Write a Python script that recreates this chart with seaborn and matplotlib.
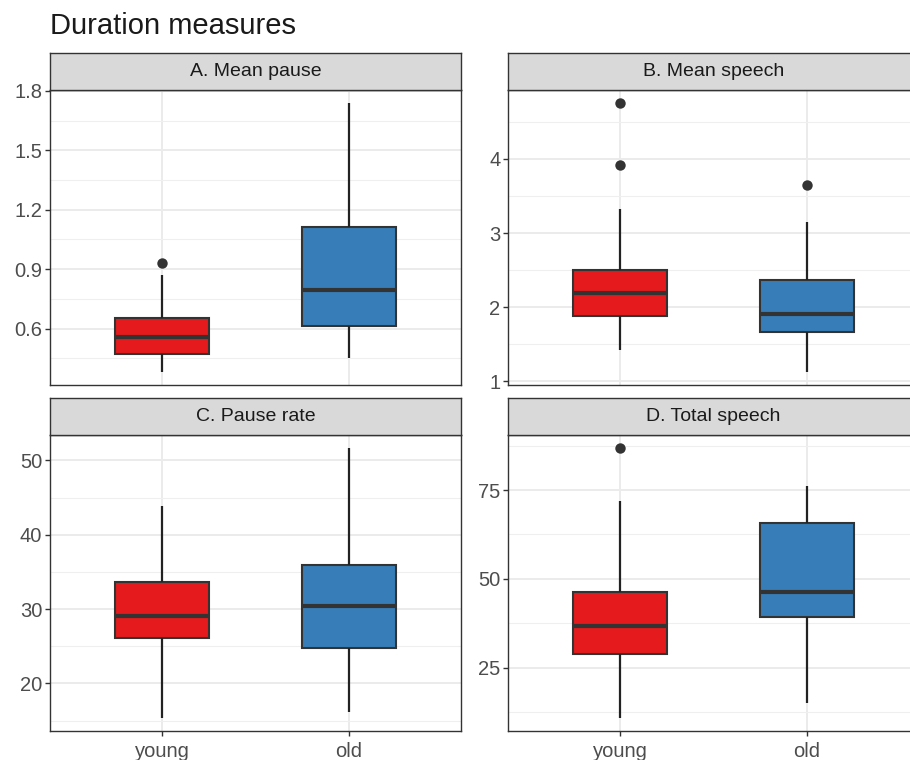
import matplotlib

matplotlib.use("Agg")
import matplotlib.pyplot as plt
import pandas as pd
import seaborn as sns
from matplotlib.ticker import MultipleLocator

# five-number summaries per group: lower whisker, Q1, median, Q3, upper whisker
groups = ["young", "old"]
group_colors = ["#E41A1C", "#377EB8"]

pause_young = [0.383, 0.474, 0.558, 0.655, 0.873]
pause_old = [0.454, 0.613, 0.797, 1.113, 1.737]
pause_outliers = {"young": [0.932], "old": []}

speech_young = [1.42, 1.88, 2.19, 2.50, 3.32]
speech_old = [1.13, 1.66, 1.91, 2.37, 3.15]
speech_outliers = {"young": [4.75, 3.92], "old": [3.645]}

rate_young = [15.4, 26.1, 29.1, 33.7, 43.9]
rate_old = [16.1, 24.7, 30.45, 35.95, 51.6]
rate_outliers = {"young": [], "old": []}

total_young = [10.9, 28.8, 36.8, 46.2, 72.0]
total_old = [15.1, 39.3, 46.2, 65.6, 76.2]
total_outliers = {"young": [86.75], "old": []}

panel_titles = ["A. Mean pause", "B. Mean speech", "C. Pause rate", "D. Total speech"]
major_steps = [0.3, 1, 10, 25]

EDGE = "#333333"
W, H = 910, 760


def px_axes(fig, x0, y0, x1, y1):
    return fig.add_axes([x0 / W, 1 - y1 / H, (x1 - x0) / W, (y1 - y0) / H])


def draw_panel(fig, box, title, young, old, outliers, step):
    x0, y0, x1, y1 = box
    ax = px_axes(fig, x0, y0, x1, y1)
    df = pd.DataFrame({
        "group": [groups[0]] * len(young) + [groups[1]] * len(old),
        "value": young + old,
    })
    sns.boxplot(
        data=df, x="group", y="value", hue="group", order=groups,
        palette=dict(zip(groups, group_colors)), saturation=1,
        whis=(0, 100), width=0.5, linecolor=EDGE, linewidth=1.5,
        showcaps=False, showfliers=False, legend=False, ax=ax,
        medianprops={"linewidth": 3.0, "color": EDGE},
        whiskerprops={"linewidth": 1.6, "color": "#222222"},
    )
    out = pd.DataFrame(
        [(g, v) for g in groups for v in outliers[g]], columns=["group", "value"]
    )
    if not out.empty:
        sns.stripplot(data=out, x="group", y="value", order=groups, jitter=False,
                      color=EDGE, size=7.5, linewidth=0, ax=ax)

    vals = young + old + [v for g in groups for v in outliers[g]]
    lo, hi = min(vals), max(vals)
    pad = (hi - lo) * 0.05
    ax.set_ylim(lo - pad, hi + pad)
    ax.set_xlim(-0.6, 1.6)

    ax.yaxis.set_major_locator(MultipleLocator(step))
    ax.yaxis.set_minor_locator(MultipleLocator(step / 2))
    ax.grid(True, which="major", color="#EBEBEB", linewidth=1.4)
    ax.grid(True, which="minor", axis="y", color="#EFEFEF", linewidth=0.8)
    ax.set_axisbelow(True)
    ax.set_xlabel("")
    ax.set_ylabel("")
    ax.tick_params(which="major", length=3.5, width=1, color=EDGE,
                   labelcolor="#4D4D4D", labelsize=14.5, pad=2,
                   left=True, bottom=True)
    ax.tick_params(axis="x", pad=4.5)
    ax.tick_params(which="minor", length=0)
    if step == 0.3:
        ax.yaxis.set_major_formatter(lambda v, p: f"{v:.1f}")
    for s in ax.spines.values():
        s.set_color(EDGE)
        s.set_linewidth(1.0)
        s.set_visible(True)

    strip = px_axes(fig, x0, y0 - 37, x1, y0)
    strip.set_facecolor("#D9D9D9")
    strip.set_xticks([])
    strip.set_yticks([])
    strip.grid(False)
    for s in strip.spines.values():
        s.set_color(EDGE)
        s.set_linewidth(1.0)
        s.set_visible(True)
    strip.text(0.5, 0.5, title, ha="center", va="center", fontsize=14,
               color="#1A1A1A", transform=strip.transAxes)
    return ax


sns.set_theme(style="white")
plt.rcParams["font.family"] = ["Liberation Sans", "DejaVu Sans"]

fig = plt.figure(figsize=(W / 100, H / 100), dpi=100)

boxes = [
    (50, 90, 461, 385),
    (508, 90, 919, 385),
    (50, 435, 461, 731),
    (508, 435, 919, 731),
]
series = [
    (pause_young, pause_old, pause_outliers),
    (speech_young, speech_old, speech_outliers),
    (rate_young, rate_old, rate_outliers),
    (total_young, total_old, total_outliers),
]

for i, (box, title, (yg, od, outl), step) in enumerate(
        zip(boxes, panel_titles, series, major_steps)):
    ax = draw_panel(fig, box, title, yg, od, outl, step)
    if i < 2:
        ax.set_xticklabels([])
        ax.tick_params(axis="x", length=0)

fig.text(50 / W, 1 - 34 / H, "Duration measures", fontsize=21, color="#1A1A1A",
         ha="left", va="baseline")

fig.savefig("out.png", dpi=100)
